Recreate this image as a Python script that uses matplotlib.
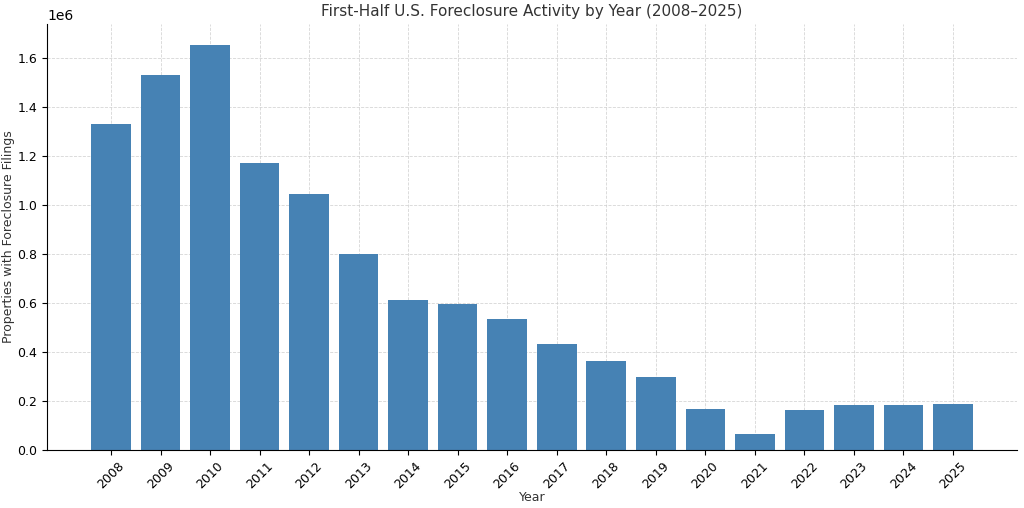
import matplotlib
matplotlib.use("Agg")
import matplotlib.pyplot as plt

years = [str(y) for y in range(2008, 2026)]
filings = [1331000, 1527000, 1653000, 1171000, 1045000, 800000, 612000, 596000, 535000,
           429000, 363000, 298000, 167000, 65000, 163000, 184000, 180000, 188000]

fig, ax = plt.subplots(figsize=(10.24, 5.08), dpi=100)
ax.bar(years, filings, color="#4682b4", zorder=2)
ax.set_title("First-Half U.S. Foreclosure Activity by Year (2008–2025)", fontsize=11, color="#333333")
ax.set_xlabel("Year", fontsize=9, color="#333333", labelpad=0)
ax.set_ylabel("Properties with Foreclosure Filings", fontsize=9, color="#333333", labelpad=1)
ax.grid(True, linestyle="--", linewidth=0.6, color="#cccccc", alpha=0.8, zorder=0)
ax.spines["top"].set_visible(False)
ax.spines["right"].set_visible(False)
plt.setp(ax.get_xticklabels(), rotation=45)
ax.tick_params(labelsize=9)
fig.subplots_adjust(left=0.046, right=0.993, top=0.952, bottom=0.115)
ax.yaxis.set_label_coords(-0.033, 0.5)
fig.savefig("out.png", dpi=100)
